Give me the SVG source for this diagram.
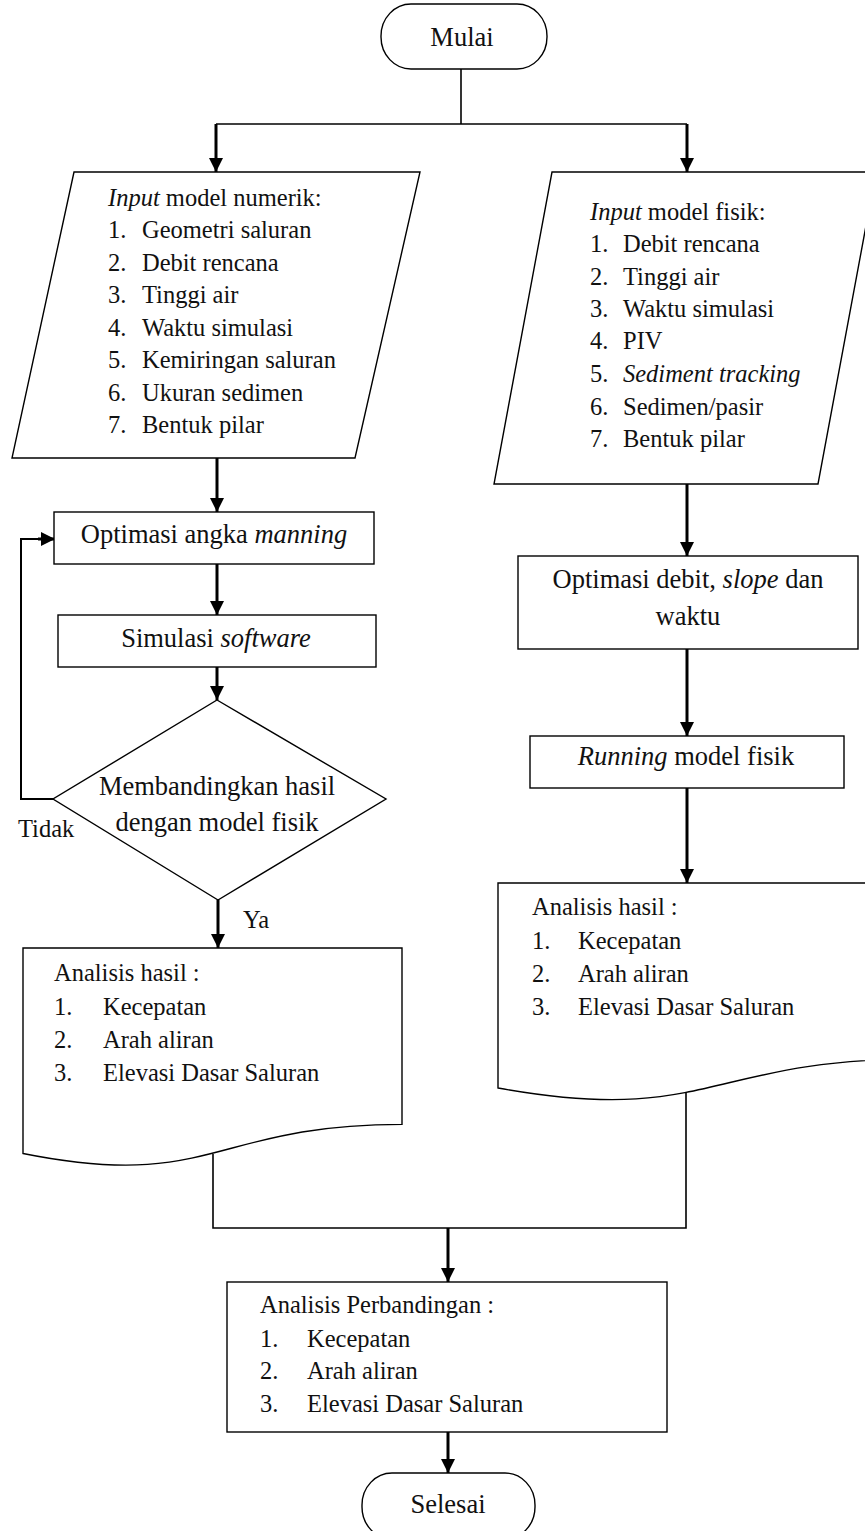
<svg xmlns="http://www.w3.org/2000/svg" width="865" height="1531" viewBox="0 0 865 1531">
<defs>
<style>
.s{fill:#fff;stroke:#000;stroke-width:1.4}
.t{fill:#111;font-family:'Liberation Serif'}
.b{font-size:26.5px}
.l{font-size:24.5px}
.c{text-anchor:middle}
.a{fill:none;stroke:#000;stroke-width:3}
.n{fill:none;stroke:#000;stroke-width:1.6}
</style>
<marker id="ah" markerUnits="userSpaceOnUse" markerWidth="16" markerHeight="16" viewBox="0 0 16 16" refX="15" refY="8" orient="auto">
<path d="M1,1 L15,8 L1,15 Z" fill="#000"/>
</marker>
</defs>
<rect width="865" height="1531" fill="#fff"/>
<g font-family="'Liberation Serif'">
<g id="connectors">
<line class="n" x1="461" y1="69" x2="461" y2="124"/>
<line class="n" x1="216" y1="124" x2="687" y2="124"/>
<line class="a" x1="216" y1="124" x2="216" y2="172" marker-end="url(#ah)"/>
<line class="a" x1="687" y1="124" x2="687" y2="172" marker-end="url(#ah)"/>
<line class="a" x1="217" y1="458" x2="217" y2="512" marker-end="url(#ah)"/>
<line class="a" x1="217" y1="564" x2="217" y2="615" marker-end="url(#ah)"/>
<line class="a" x1="217" y1="667" x2="217" y2="700" marker-end="url(#ah)"/>
<polyline class="n" points="53,799 21,799 21,539 40,539" style="stroke-width:2"/>
<line class="a" x1="38" y1="539" x2="55" y2="539" marker-end="url(#ah)"/>
<line class="a" x1="218" y1="900" x2="218" y2="948" marker-end="url(#ah)"/>
<line class="a" x1="687" y1="484" x2="687" y2="556" marker-end="url(#ah)"/>
<line class="a" x1="687" y1="649" x2="687" y2="736" marker-end="url(#ah)"/>
<line class="a" x1="687" y1="788" x2="687" y2="883" marker-end="url(#ah)"/>
<polyline class="n" points="213,1154 213,1228 686,1228 686,1091"/>
<line class="a" x1="448" y1="1228" x2="448" y2="1282" marker-end="url(#ah)"/>
<line class="a" x1="448" y1="1432" x2="448" y2="1473" marker-end="url(#ah)"/>
</g>

<g id="mulai">
<rect class="s" x="381" y="4" width="166" height="65" rx="30" ry="32"/>
<text class="t b c" x="462" y="46">Mulai</text>
</g>

<g id="input-numerik">
<polygon class="s" points="74,172 420,172 355,458 12,458"/>
<text class="t l" x="108" y="206"><tspan font-style="italic">Input</tspan> model numerik:</text>
<text class="t l" x="108" y="238">1.</text><text class="t l" x="142" y="238">Geometri saluran</text>
<text class="t l" x="108" y="270.5">2.</text><text class="t l" x="142" y="270.5">Debit rencana</text>
<text class="t l" x="108" y="303">3.</text><text class="t l" x="142" y="303">Tinggi air</text>
<text class="t l" x="108" y="335.5">4.</text><text class="t l" x="142" y="335.5">Waktu simulasi</text>
<text class="t l" x="108" y="368">5.</text><text class="t l" x="142" y="368">Kemiringan saluran</text>
<text class="t l" x="108" y="400.5">6.</text><text class="t l" x="142" y="400.5">Ukuran sedimen</text>
<text class="t l" x="108" y="433">7.</text><text class="t l" x="142" y="433">Bentuk pilar</text>
</g>

<g id="input-fisik">
<polygon class="s" points="552,172 876,172 818,484 494,484"/>
<text class="t l" x="590" y="220"><tspan font-style="italic">Input</tspan> model fisik:</text>
<text class="t l" x="590" y="252">1.</text><text class="t l" x="623" y="252">Debit rencana</text>
<text class="t l" x="590" y="285">2.</text><text class="t l" x="623" y="285">Tinggi air</text>
<text class="t l" x="590" y="317">3.</text><text class="t l" x="623" y="317">Waktu simulasi</text>
<text class="t l" x="590" y="349">4.</text><text class="t l" x="623" y="349">PIV</text>
<text class="t l" x="590" y="382">5.</text><text class="t l" x="623" y="382" font-style="italic">Sediment tracking</text>
<text class="t l" x="590" y="415">6.</text><text class="t l" x="623" y="415">Sedimen/pasir</text>
<text class="t l" x="590" y="447">7.</text><text class="t l" x="623" y="447">Bentuk pilar</text>
</g>

<g id="optimasi-manning">
<rect class="s" x="54" y="512" width="320" height="52"/>
<text class="t b c" x="214" y="543">Optimasi angka <tspan font-style="italic">manning</tspan></text>
</g>

<g id="simulasi">
<rect class="s" x="58" y="615" width="318" height="52"/>
<text class="t b c" x="216" y="647">Simulasi <tspan font-style="italic">software</tspan></text>
</g>

<g id="keputusan">
<polygon class="s" points="217,700 386,799 218,900 53,799"/>
<text class="t b c" x="217" y="795">Membandingkan hasil</text>
<text class="t b c" x="217" y="831">dengan model fisik</text>
</g>

<g id="label-tidak"><text class="t l" x="18" y="837">Tidak</text></g>
<g id="label-ya"><text class="t l" x="243" y="928">Ya</text></g>

<g id="analisis-numerik">
<path class="s" d="M23,948 H402 V1124.4 C212.5,1124.4 212.5,1191.6 23,1153.5 Z"/>
<text class="t l" x="54" y="981">Analisis hasil :</text>
<text class="t l" x="54" y="1015">1.</text><text class="t l" x="103" y="1015">Kecepatan</text>
<text class="t l" x="54" y="1048">2.</text><text class="t l" x="103" y="1048">Arah aliran</text>
<text class="t l" x="54" y="1081">3.</text><text class="t l" x="103" y="1081">Elevasi Dasar Saluran</text>
</g>

<g id="optimasi-debit">
<rect class="s" x="518" y="556" width="340" height="93"/>
<text class="t b c" x="688" y="588">Optimasi debit, <tspan font-style="italic">slope</tspan> dan</text>
<text class="t b c" x="688" y="625">waktu</text>
</g>

<g id="running">
<rect class="s" x="530" y="736" width="314" height="52"/>
<text class="t b c" x="686" y="765"><tspan font-style="italic">Running</tspan> model fisik</text>
</g>

<g id="analisis-fisik">
<path class="s" d="M498,883 H918 V1059 C708,1059 708,1126 498,1088 Z"/>
<text class="t l" x="532" y="915">Analisis hasil :</text>
<text class="t l" x="532" y="949">1.</text><text class="t l" x="578" y="949">Kecepatan</text>
<text class="t l" x="532" y="982">2.</text><text class="t l" x="578" y="982">Arah aliran</text>
<text class="t l" x="532" y="1015">3.</text><text class="t l" x="578" y="1015">Elevasi Dasar Saluran</text>
</g>

<g id="analisis-perbandingan">
<rect class="s" x="227" y="1282" width="440" height="150"/>
<text class="t l" x="260" y="1313">Analisis Perbandingan :</text>
<text class="t l" x="260" y="1347">1.</text><text class="t l" x="307" y="1347">Kecepatan</text>
<text class="t l" x="260" y="1379">2.</text><text class="t l" x="307" y="1379">Arah aliran</text>
<text class="t l" x="260" y="1412">3.</text><text class="t l" x="307" y="1412">Elevasi Dasar Saluran</text>
</g>

<g id="selesai">
<rect class="s" x="362" y="1473" width="173" height="66" rx="30" ry="32"/>
<text class="t b c" x="448" y="1513">Selesai</text>
</g>
</g>
</svg>
